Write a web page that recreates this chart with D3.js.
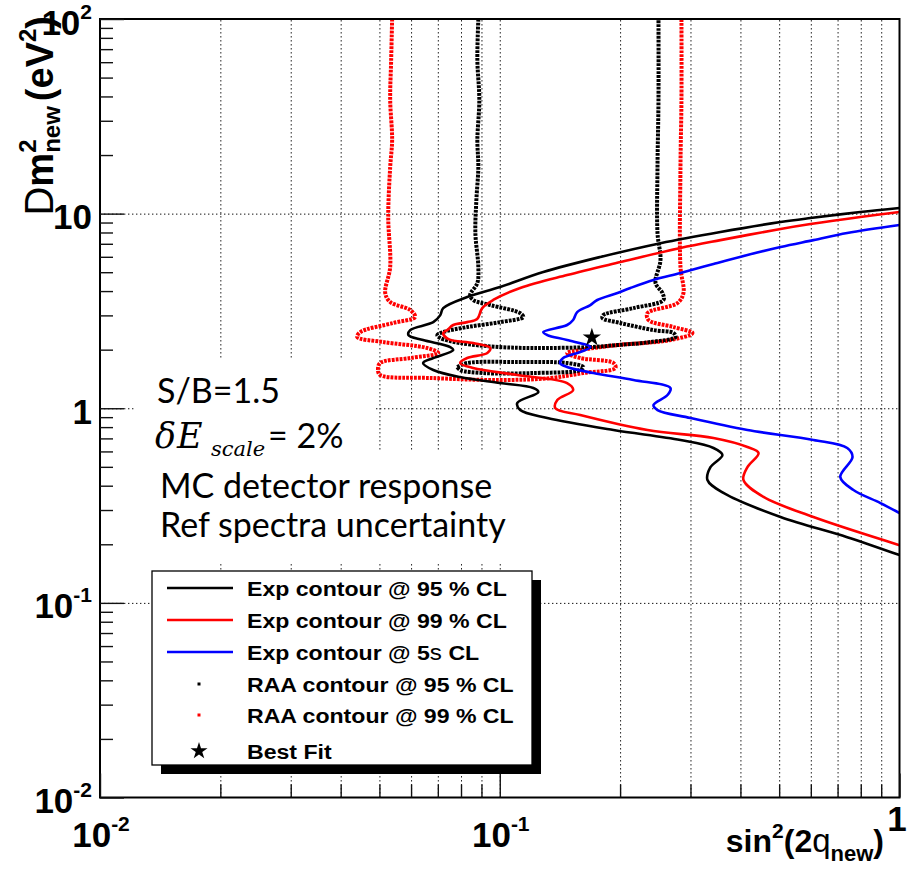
<!DOCTYPE html>
<html><head><meta charset="utf-8">
<script src="https://cdn.jsdelivr.net/npm/d3@7"></script>
<style>body{margin:0;background:#fff}svg{display:block}</style>
</head><body>
<svg id="c" width="916" height="883"></svg>
<script>
// ---------------- data ----------------
const xDomain = [0.01, 1];
const yDomain = [0.01, 100];
const xMajorTicks = [0.01, 0.1, 1];
const xTickLabels = ["10^-2", "10^-1", "1"];
const yMajorTicks = [100, 10, 1, 0.1, 0.01];
const yTickLabels = ["10^2", "10", "1", "10^-1", "10^-2"];
const xMinorTicks = [0.02,0.03,0.04,0.05,0.06,0.07,0.08,0.09,0.2,0.3,0.4,0.5,0.6,0.7,0.8,0.9];
const yMinorTicks = [0.02,0.03,0.04,0.05,0.06,0.07,0.08,0.09,0.2,0.3,0.4,0.5,0.6,0.7,0.8,0.9,2,3,4,5,6,7,8,9,20,30,40,50,60,70,80,90];
const xGridValues = [0.02,0.03,0.04,0.05,0.06,0.07,0.08,0.09,0.1,0.2,0.3,0.4,0.5,0.6,0.7,0.8,0.9];
const yGridValues = [0.1, 1, 10];

// Exp contour @ 95 % CL (black solid)
const exp95 = [[1.0,10.68],[0.798,10.19],[0.599,9.49],[0.504,9.05],[0.3565,8.05],[0.2524,7.05],[0.1786,5.99],[0.1285,5.01],[0.1002,4.20],[0.0829,3.73],[0.0722,3.27],[0.0710,3.01],[0.0682,2.77],[0.0597,2.522],[0.0591,2.377],[0.0643,2.241],[0.0752,2.063],[0.0765,1.991],[0.0682,1.811],[0.0643,1.707],[0.0682,1.572],[0.0796,1.446],[0.1002,1.347],[0.1213,1.270],[0.1249,1.211],[0.1106,1.064],[0.1125,0.979],[0.1315,0.891],[0.1925,0.773],[0.2832,0.687],[0.3425,0.625],[0.3606,0.575],[0.3366,0.498],[0.3308,0.428],[0.3627,0.367],[0.504,0.276],[0.740,0.2176],[1.0,0.176]];
// Exp contour @ 99 % CL (red solid)
const exp99 = [[1.0,10.19],[0.798,9.61],[0.599,8.84],[0.504,8.34],[0.3565,7.31],[0.2832,6.66],[0.2004,5.64],[0.1474,4.84],[0.1125,4.15],[0.0963,3.60],[0.0904,3.27],[0.0878,2.874],[0.0829,2.77],[0.0765,2.677],[0.0739,2.522],[0.0722,2.434],[0.0744,2.268],[0.0858,2.163],[0.0947,2.039],[0.0931,1.922],[0.0829,1.811],[0.0796,1.707],[0.0858,1.610],[0.1106,1.482],[0.1474,1.347],[0.1526,1.240],[0.1393,1.102],[0.1377,1.0025],[0.159,0.923],[0.2342,0.773],[0.3425,0.703],[0.4165,0.632],[0.444,0.589],[0.4165,0.498],[0.407,0.428],[0.457,0.350],[0.609,0.276],[1.0,0.198]];
// Exp contour @ 5 sigma CL (blue solid)
const exp5s = [[1.0,8.74],[0.740,7.95],[0.609,7.31],[0.504,6.74],[0.4165,6.13],[0.3425,5.51],[0.2832,4.95],[0.2424,4.56],[0.2123,4.15],[0.197,3.91],[0.1754,3.60],[0.1685,3.39],[0.1562,3.12],[0.1526,2.84],[0.1474,2.677],[0.1285,2.463],[0.1315,2.377],[0.1474,2.241],[0.1685,2.063],[0.159,1.944],[0.1441,1.811],[0.1416,1.707],[0.1474,1.629],[0.1714,1.517],[0.216,1.396],[0.2674,1.270],[0.2628,1.169],[0.2424,1.039],[0.2481,0.979],[0.300,0.891],[0.4165,0.773],[0.609,0.687],[0.740,0.625],[0.763,0.5615],[0.711,0.4435],[0.767,0.380],[0.896,0.3257],[1.0,0.2895]];
// RAA contour @ 95 % CL (black dotted)
const raa95 = [[0.0884,100],[0.0879,61.6],[0.0889,38.4],[0.0879,23.9],[0.0884,17.36],[0.0874,11.75],[0.0869,7.95],[0.0884,5.32],[0.0879,4.40],[0.0843,3.82],[0.0858,3.60],[0.0947,3.39],[0.1125,3.08],[0.1145,2.943],[0.1002,2.77],[0.0829,2.613],[0.0722,2.463],[0.0698,2.377],[0.0710,2.295],[0.0796,2.163],[0.1002,2.063],[0.1213,2.039],[0.1685,2.063],[0.197,2.112],[0.2383,2.189],[0.2752,2.322],[0.2721,2.434],[0.2424,2.522],[0.2004,2.741],[0.1807,2.908],[0.1817,3.013],[0.216,3.27],[0.2568,3.60],[0.2553,3.91],[0.2453,4.40],[0.2524,5.78],[0.2481,7.95],[0.2481,17.36],[0.2495,38.4],[0.2495,100]];
const raa95Island = [[0.0783,1.629],[0.0829,1.707],[0.1106,1.728],[0.1474,1.707],[0.1618,1.629],[0.159,1.572],[0.1213,1.517],[0.0910,1.517],[0.0796,1.572],[0.0783,1.629]];
// RAA contour @ 99 % CL (red dotted)
const raa99 = [[0.0538,100],[0.0535,61.6],[0.0532,38.4],[0.0538,23.9],[0.0532,17.36],[0.0526,9.61],[0.0532,5.32],[0.0517,3.91],[0.0532,3.516],[0.0597,3.196],[0.0614,2.943],[0.0541,2.741],[0.0448,2.463],[0.0440,2.322],[0.0511,2.189],[0.0658,2.039],[0.0702,1.922],[0.0597,1.811],[0.0502,1.707],[0.0496,1.572],[0.0502,1.482],[0.0682,1.429],[0.1002,1.396],[0.1338,1.429],[0.1618,1.517],[0.1947,1.610],[0.1925,1.707],[0.159,1.811],[0.1474,1.922],[0.159,1.991],[0.197,2.112],[0.2674,2.241],[0.3035,2.434],[0.2721,2.613],[0.2355,2.84],[0.2342,3.08],[0.2784,3.474],[0.2881,3.91],[0.2832,5.32],[0.2832,17.36],[0.2848,38.4],[0.2848,100]];
const bestFit = [0.170, 2.31];

const legendLabels = ["Exp contour @ 95 % CL","Exp contour @ 99 % CL","Exp contour @ 5s CL","RAA contour @ 95 % CL","RAA contour @ 99 % CL","Best Fit"];
const annotationLines = ["S/B=1.5", "= 2%", "MC detector response", "Ref spectra uncertainty"];

// ---------------- drawing ----------------
const svg = d3.select("#c");
const W = 916, H = 883;
const L = 100, R = 899.5, T = 19, B = 797.5;
const SANS = "'Liberation Sans', Arial, Helvetica, sans-serif";
const x = d3.scaleLog().domain(xDomain).range([L, R]);
const y = d3.scaleLog().domain(yDomain).range([B, T]);

svg.append("rect").attr("width", W).attr("height", H).attr("fill", "#fff");

// grid
function gridStyle(g) {
  g.select(".domain").remove();
  g.selectAll("line").attr("stroke", "#111").attr("stroke-width", 1).attr("stroke-dasharray", "1.4 2.6");
}
gridStyle(svg.append("g").attr("transform", `translate(0,${B})`)
  .call(d3.axisTop(x).tickValues(xGridValues).tickSize(B - T).tickFormat("")));
gridStyle(svg.append("g").attr("transform", `translate(${L},0)`)
  .call(d3.axisRight(y).tickValues(yGridValues).tickSize(R - L).tickFormat("")));

// pasted text box background
svg.append("rect").attr("x", 134).attr("y", 358).attr("width", 240).attr("height", 95).attr("fill", "#fff");
svg.append("rect").attr("x", 134).attr("y", 452).attr("width", 396).attr("height", 111).attr("fill", "#fff");

// curves
svg.append("clipPath").attr("id", "clip").append("rect").attr("x", L).attr("y", T).attr("width", R - L).attr("height", B - T);
const plot = svg.append("g").attr("clip-path", "url(#clip)");
const line = d3.line().x(d => x(d[0])).y(d => y(d[1])).curve(d3.curveCatmullRom.alpha(0.5));
function drawCurve(data, color, dotted) {
  const p = plot.append("path").attr("d", line(data)).attr("fill", "none").attr("stroke", color)
    .attr("stroke-linejoin", "round");
  if (dotted) p.attr("stroke-width", 4).attr("stroke-dasharray", "2.8 1.1");
  else p.attr("stroke-width", 2.6);
}
drawCurve(raa99, "#ff0000", true);
drawCurve(raa95, "#000", true);
drawCurve(raa95Island, "#000", true);
drawCurve(exp5s, "#0000ff", false);
drawCurve(exp99, "#ff0000", false);
drawCurve(exp95, "#000", false);
plot.append("path").attr("d", d3.symbol(d3.symbolStar, 105)())
  .attr("transform", `translate(${x(bestFit[0])},${y(bestFit[1])})`).attr("fill", "#000");

// frame
svg.append("rect").attr("x", L).attr("y", T).attr("width", R - L).attr("height", B - T)
  .attr("fill", "none").attr("stroke", "#000").attr("stroke-width", 2);

// ticks
function tickSet(gen, tr, vals, size) {
  const g = svg.append("g").attr("transform", tr).call(gen.tickValues(vals).tickSize(size).tickFormat(""));
  g.select(".domain").remove();
  g.selectAll("line").attr("stroke", "#111").attr("stroke-width", 1.4);
}
tickSet(d3.axisRight(y), `translate(${L},0)`, yMinorTicks, 13);
tickSet(d3.axisRight(y), `translate(${L},0)`, yMajorTicks, 24);
tickSet(d3.axisTop(x), `translate(0,${B})`, xMinorTicks, 13);
tickSet(d3.axisTop(x), `translate(0,${B})`, xMajorTicks, 24);

// tick labels
function powLabel(sel, lab) {
  const parts = lab.split("^");
  sel.append("tspan").text(parts[0]);
  if (parts[1]) sel.append("tspan").text(parts[1]).attr("font-size", 21).attr("dy", -16);
}
yMajorTicks.forEach((v, i) => {
  const t = svg.append("text").attr("x", 92).attr("y", y(v) + 15.5).attr("text-anchor", "end")
    .attr("font-family", SANS).attr("font-weight", "bold").attr("font-size", 35);
  powLabel(t, yTickLabels[i]);
});
xMajorTicks.forEach((v, i) => {
  const plain = !xTickLabels[i].includes("^");
  const t = svg.append("text").attr("x", plain ? x(v) - 2.5 : x(v) + 1).attr("y", plain ? B + 33 : B + 49.5)
    .attr("text-anchor", "middle").attr("font-family", SANS).attr("font-weight", "bold").attr("font-size", 35);
  powLabel(t, xTickLabels[i]);
});

// sequential piece layout (supports stacked sub/superscripts)
function layout(g, pieces) {
  let cursor = 0, lastStart = 0, lastEnd = 0;
  pieces.forEach(p => {
    const t = g.append("text").text(p.t).attr("font-size", p.size)
      .attr("font-weight", p.weight || "bold").attr("font-family", p.family || SANS)
      .attr("font-style", p.style || "normal").attr("y", p.dy || 0).attr("fill", "#000");
    const w = t.node().getComputedTextLength();
    const start = p.stack ? lastStart : cursor + (p.gap || 0);
    t.attr("x", start);
    const end = start + w;
    if (p.stack) { cursor = Math.max(lastEnd, end); lastEnd = cursor; }
    else { cursor = end; lastEnd = end; }
    lastStart = start;
  });
  return cursor;
}

// axis titles
const xt = svg.append("g");
const xw = layout(xt, [
  {t: "sin", size: 32}, {t: "2", size: 21, dy: -14}, {t: "(2", size: 32},
  {t: "q", size: 33, weight: "normal"}, {t: "new", size: 22, dy: 9}, {t: ")", size: 32}
]);
xt.attr("transform", `translate(${884 - xw},852)`);

const ytOuter = svg.append("g");
const yt = ytOuter.append("g");
const yw = layout(yt, [
  {t: "D", size: 40, weight: "normal"}, {t: "m", size: 38},
  {t: "2", size: 24, dy: -17}, {t: "new", size: 24, dy: 7, stack: true},
  {t: "(eV", size: 38, gap: 5}, {t: "2", size: 24, dy: -17}, {t: ")", size: 38}
]);
ytOuter.attr("transform", `translate(53,${16 + yw}) rotate(-90)`);

// annotation text
const ANN = "Lato, 'Open Sans', sans-serif";
const SER = "'DejaVu Serif', serif";
svg.append("text").attr("x", 157).attr("y", 403).attr("font-family", ANN).attr("font-size", 34).text(annotationLines[0]);
svg.append("text").attr("x", 155).attr("y", 448).attr("font-family", SER).attr("font-style", "italic").attr("font-size", 35).text("δ");
svg.append("text").attr("x", 177).attr("y", 448).attr("font-family", SER).attr("font-style", "italic").attr("font-size", 35).text("E");
svg.append("text").attr("x", 211).attr("y", 456).attr("font-family", SER).attr("font-style", "italic").attr("font-size", 21).text("scale");
svg.append("text").attr("x", 268).attr("y", 448).attr("font-family", ANN).attr("font-size", 34).text(annotationLines[1]);
svg.append("text").attr("x", 160).attr("y", 498).attr("font-family", ANN).attr("font-size", 34).text(annotationLines[2]);
svg.append("text").attr("x", 160).attr("y", 537).attr("font-family", ANN).attr("font-size", 34).text(annotationLines[3]);

// legend
const LX = 152, LY = 571, LW = 380, LH = 194;
svg.append("rect").attr("x", LX + 9).attr("y", LY + 9).attr("width", LW).attr("height", LH).attr("fill", "#000");
svg.append("rect").attr("x", LX).attr("y", LY).attr("width", LW).attr("height", LH).attr("fill", "#fff")
  .attr("stroke", "#000").attr("stroke-width", 1.3);
const rowY = [588, 620, 652, 684, 715, 751];
const styles = [
  {type: "line", color: "#000"}, {type: "line", color: "#ff0000"}, {type: "line", color: "#0000ff"},
  {type: "dot", color: "#000"}, {type: "dot", color: "#ff0000"}, {type: "star", color: "#000"}
];
legendLabels.forEach((lab, i) => {
  const yy = rowY[i], s = styles[i];
  if (s.type === "line") svg.append("line").attr("x1", 167).attr("x2", 233).attr("y1", yy).attr("y2", yy).attr("stroke", s.color).attr("stroke-width", 2.6);
  else if (s.type === "dot") svg.append("rect").attr("x", 197.5).attr("y", yy - 1.5).attr("width", 3).attr("height", 3).attr("fill", s.color);
  else svg.append("path").attr("d", d3.symbol(d3.symbolStar, 90)()).attr("transform", `translate(199,${yy})`).attr("fill", s.color);
  const t = svg.append("text").attr("transform", `translate(247,${yy + 7.5}) scale(1.1,1)`)
    .attr("font-family", SANS).attr("font-weight", "bold").attr("font-size", 21);
  if (lab.includes("5s")) {
    const [a, b] = lab.split("5s");
    t.append("tspan").text(a + "5");
    t.append("tspan").text("s").attr("font-weight", "normal").attr("font-size", 22);
    t.append("tspan").text(b);
  } else t.text(lab);
});
</script>
</body></html>
